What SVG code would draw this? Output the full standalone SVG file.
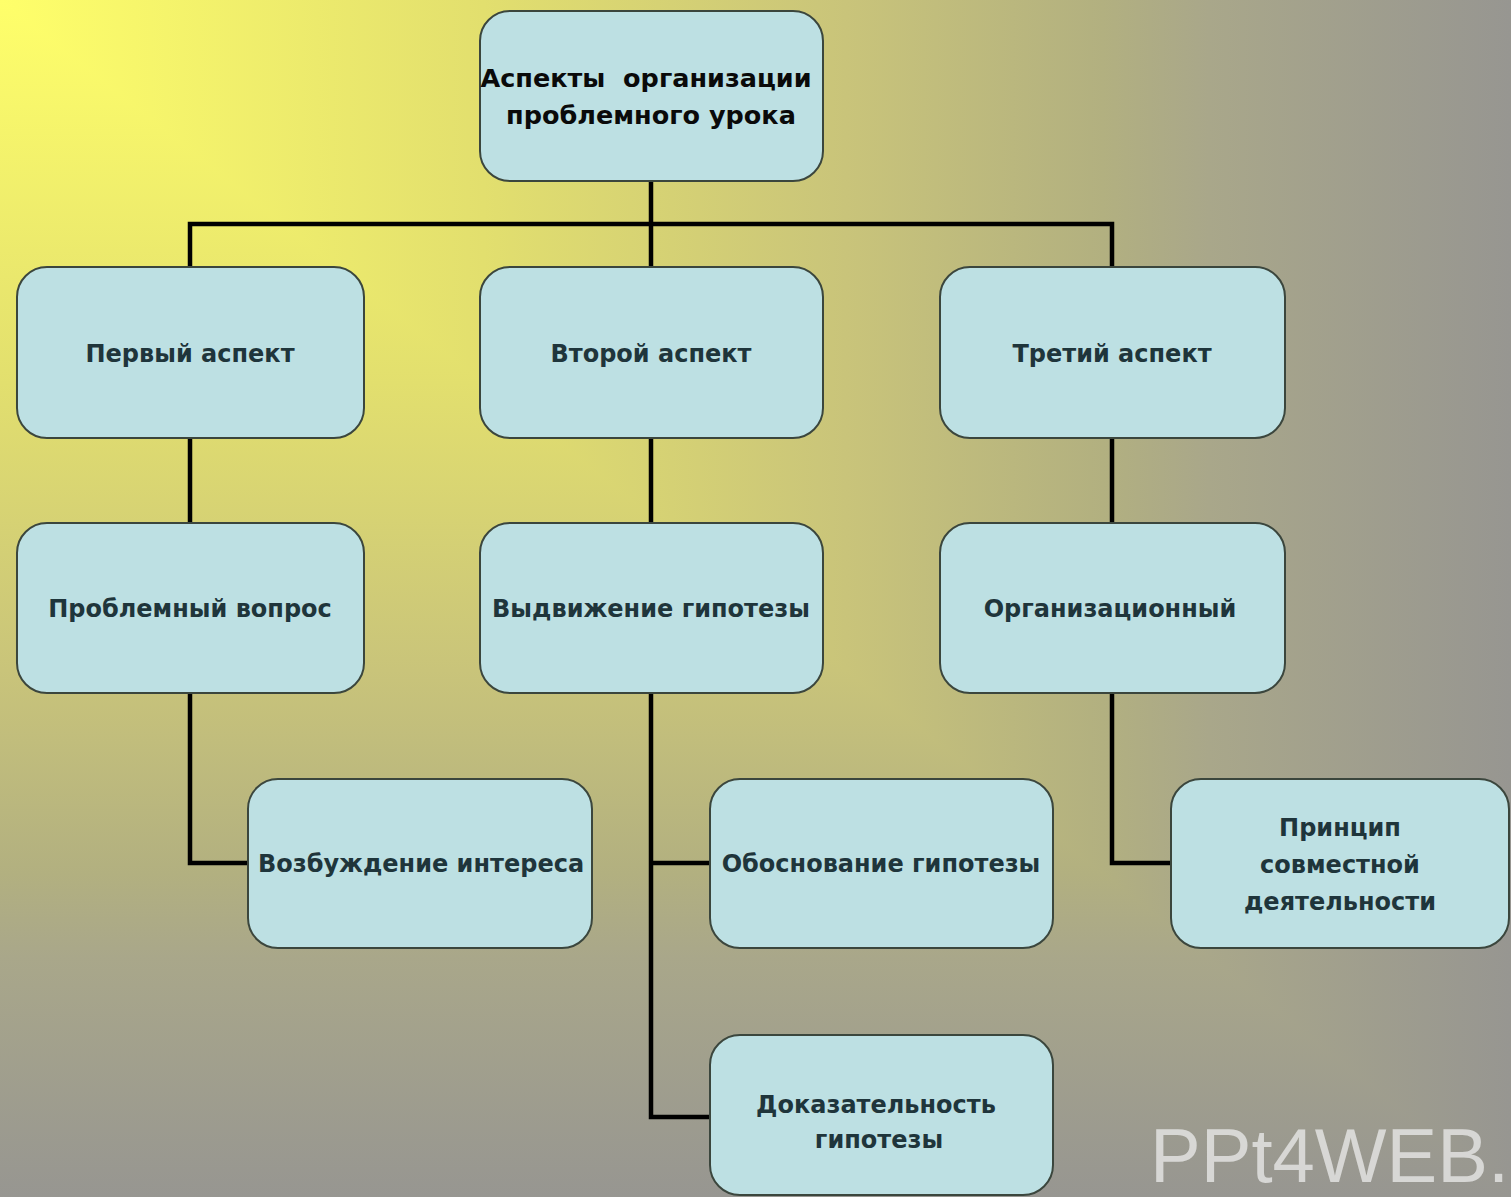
<svg xmlns="http://www.w3.org/2000/svg" width="1511" height="1197" viewBox="0 0 1511 1197">
<defs>
<linearGradient id="gh" x1="0" y1="0" x2="1511" y2="0" gradientUnits="userSpaceOnUse">
<stop offset="0" stop-color="#ffff6a"/>
<stop offset="0.32" stop-color="#e2df6e"/>
<stop offset="0.56" stop-color="#c9c47a"/>
<stop offset="0.73" stop-color="#b2b080"/>
<stop offset="0.8" stop-color="#a9a78a"/>
<stop offset="1" stop-color="#979691"/>
</linearGradient>
<linearGradient id="gv" x1="0" y1="0" x2="0" y2="1197" gradientUnits="userSpaceOnUse">
<stop offset="0" stop-color="#ffff6a"/>
<stop offset="0.32" stop-color="#e2df6e"/>
<stop offset="0.56" stop-color="#c9c47a"/>
<stop offset="0.73" stop-color="#b2b080"/>
<stop offset="0.8" stop-color="#a9a78a"/>
<stop offset="1" stop-color="#979691"/>
</linearGradient>
<style>
.box{fill:#bde0e3;stroke:#3b463d;stroke-width:2}
.t{font-family:"DejaVu Sans",sans-serif;font-weight:bold;font-size:24px;fill:#1f353b;text-anchor:middle}
.top{fill:#0a0a0a;font-size:25.5px}
.c{fill:none;stroke:#000;stroke-width:4.5}
.wm{font-family:"Liberation Sans",sans-serif;font-size:76px;fill:#ececec;fill-opacity:0.75}
</style>
</defs>
<g id="background">
<rect x="0" y="0" width="1511" height="1197" fill="url(#gv)"/>
<polygon points="0,0 1511,0 1511,1197" fill="url(#gh)"/>
</g>
<g id="connectors">
<path class="c" d="M651 181V267M190 267V224H1112V267"/>
<path class="c" d="M190 438V523M651 438V523M1112 438V523"/>
<path class="c" d="M190 693V863H248"/>
<path class="c" d="M651 693V1117H710M651 863H710"/>
<path class="c" d="M1112 693V863H1171"/>
</g>
<g id="n0"><rect class="box" x="480" y="11" width="343" height="170" rx="30"/>
<text class="t top" x="646" y="87">Аспекты&#160; организации</text>
<text class="t top" x="651" y="124">проблемного урока</text></g>
<g id="n1"><rect class="box" x="17" y="267" width="347" height="171" rx="30"/>
<text class="t" x="190" y="362">Первый аспект</text></g>
<g id="n2"><rect class="box" x="480" y="267" width="343" height="171" rx="30"/>
<text class="t" x="651" y="362">Второй аспект</text></g>
<g id="n3"><rect class="box" x="940" y="267" width="345" height="171" rx="30"/>
<text class="t" x="1112" y="362">Третий аспект</text></g>
<g id="n4"><rect class="box" x="17" y="523" width="347" height="170" rx="30"/>
<text class="t" x="190" y="617">Проблемный вопрос</text></g>
<g id="n5"><rect class="box" x="480" y="523" width="343" height="170" rx="30"/>
<text class="t" x="651" y="617">Выдвижение гипотезы</text></g>
<g id="n6"><rect class="box" x="940" y="523" width="345" height="170" rx="30"/>
<text class="t" x="1110" y="617">Организационный</text></g>
<g id="n7"><rect class="box" x="248" y="779" width="344" height="169" rx="30"/>
<text class="t" x="421" y="872">Возбуждение интереса</text></g>
<g id="n8"><rect class="box" x="710" y="779" width="343" height="169" rx="30"/>
<text class="t" x="881" y="872">Обоснование гипотезы</text></g>
<g id="n9"><rect class="box" x="1171" y="779" width="338" height="169" rx="30"/>
<text class="t" x="1340" y="836">Принцип</text>
<text class="t" x="1340" y="873">совместной</text>
<text class="t" x="1340" y="910">деятельности</text></g>
<g id="n10"><rect class="box" x="710" y="1035" width="343" height="160" rx="30"/>
<text class="t" x="876" y="1113">Доказательность</text>
<text class="t" x="879" y="1148">гипотезы</text></g>
<text class="wm" x="1150" y="1182">PPt4WEB.ru</text>
</svg>
